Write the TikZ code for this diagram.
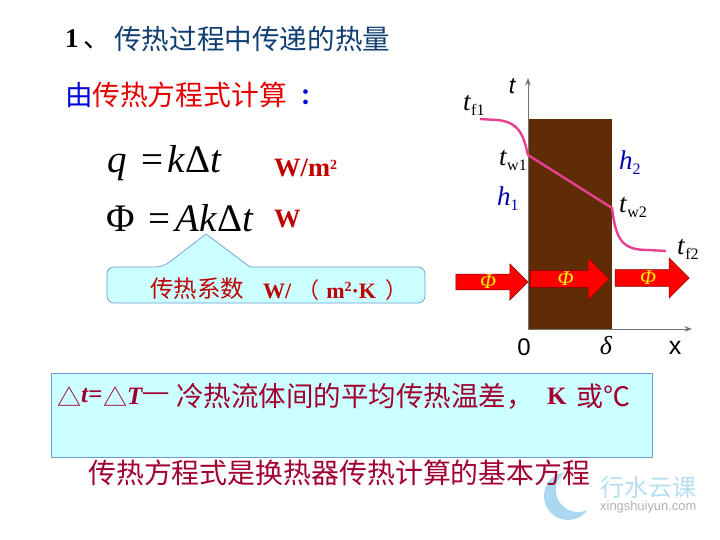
\documentclass[tikz,border=0pt]{standalone}
\usepackage{fontspec}
\setmainfont{Liberation Serif}
\setsansfont{Liberation Sans}
\newfontfamily\cjk{Noto Sans CJK SC}
\usetikzlibrary{arrows.meta,shapes.arrows}
\definecolor{wallbrown}{HTML}{5F2C06}
\definecolor{curvepink}{HTML}{E8408F}
\definecolor{boxcyan}{HTML}{CCFFFF}
\definecolor{boxedge}{HTML}{6C9BD2}
\definecolor{titleblue}{HTML}{123F73}
\definecolor{unitred}{HTML}{C00000}
\definecolor{noteplum}{HTML}{A00030}
\definecolor{markblue}{HTML}{A9D8F0}
\newcommand{\fsize}[1]{\fontsize{#1}{#1}\selectfont}
\newcommand{\tempsub}[2]{\fsize{27}\textit{#1}\raisebox{-5pt}{\fsize{16}#2}}
\newcommand{\sqsup}{\raisebox{7pt}{\fsize{14}2}}
\tikzset{
	txt/.style={inner sep=0pt, anchor=west},
	fluxarrow/.style={single arrow, draw=red!50!black, line width=0.5pt, fill=red, inner sep=0pt,
			single arrow tip angle=90, text=yellow, font=\fsize{21}\itshape},
	greybar/.style={draw=black!55, line width=1pt}
}
\begin{document}
\begin{tikzpicture}[x=1pt, y=-1pt, >=Stealth]
	\useasboundingbox (0,0) rectangle (720,540);

	% Watermark
	\fill[markblue] (568,496) circle[radius=24];
	\fill[white] (578,490) circle[radius=22];
	\draw[markblue!60, line width=1pt] (560,486) arc[start angle=170, end angle=260, radius=16];
	\node[txt, font=\fsize{24}\cjk, text=markblue!85] (marktext) at (600,487) {行水云课};
	\node[txt, font=\fsize{12.9}\sffamily, text=black!30] (markurl) at (600,507) {xingshuiyun.com};

	% Heading lines
	\node[txt, font=\fsize{27}\bfseries] (num) at (65,39) {1\,{\cjk\mdseries 、}};
	\node[txt, font=\fsize{27.6}\cjk, text=titleblue] (heading) at (114,39) {传热过程中传递的热量};
	\node[txt, font=\fsize{27.6}\cjk, text=blue!85!black] (you) at (65,95) {由};
	\node[txt, font=\fsize{27.8}\cjk, text=red!90!black] (method) at (92,95) {传热方程式计算};
	\node[txt, font=\fsize{22}\cjk\bfseries, text=blue!85!black] (colon) at (300,97) {：};

	% Equations
	\node[txt, font=\fsize{39}] (eqq) at (107,163) {\textit{q}\hspace{15pt}=\hspace{4pt}\textit{k}Δ\textit{t}};
	\node[txt, font=\fsize{39}] (eqphi) at (106,218) {Φ\hspace{14pt}=\hspace{5pt}\textit{Ak}Δ\textit{t}};
	\node[txt, font=\fsize{26.5}\bfseries, text=unitred] (unitq) at (274,168) {W/m\sqsup};
	\node[txt, font=\fsize{26.5}\bfseries, text=unitred] (unitphi) at (274,219) {W};

	% Callout
	\draw[draw=boxedge, line width=0.7pt, fill=boxcyan, rounded corners=7pt]
		(107,285) -- (107,267) -- (163,267) [sharp corners] -- (206,234) -- (250,267)
		[rounded corners=7pt] -- (425,267) -- (425,303) -- (107,303) -- cycle;
	\node[txt, font=\fsize{23.5}\cjk, text=red!75!black] (callout) at (150,289) {传热系数};
	\node[txt, font=\fsize{22}\bfseries, text=red!75!black] (calloutunit) at (263,290)
		{W/\hspace{6pt}{\cjk\mdseries （}\hspace{7pt}m\sqsup·K\hspace{9pt}{\cjk\mdseries ）}};

	% Wall
	\fill[wallbrown] (528,119) rectangle (612,329);

	% Axes
	\coordinate (origin) at (528,329);
	\coordinate (ttip) at (528,78);
	\coordinate (xtip) at (692,329);
	\draw[->, greybar] (origin) -- (ttip);
	\draw[->, greybar] (origin) -- (xtip);
	\node[font=\fsize{23}\sffamily\itshape, inner sep=0pt] (tlabel) at (512,86) {t};
	\node[font=\fsize{24}\sffamily, inner sep=0pt] (zero) at (524,347) {0};
	\node[font=\fsize{26}\itshape, inner sep=0pt] (delta) at (606,346) {δ};
	\node[font=\fsize{25}\sffamily, inner sep=0pt] (xlabel) at (675,348) {x};

	% Temperature curve
	\coordinate (tf1) at (480,119);
	\coordinate (tw1) at (528,155);
	\coordinate (tw2) at (612,208);
	\coordinate (tf2) at (666,251);
	\draw[curvepink, line width=2.4pt]
		(tf1) -- (497,120) .. controls (522,122) and (524,140) .. (tw1) -- (tw2)
		.. controls (616,240) and (622,250) .. (648,250) -- (tf2);

	% Heat flow arrows
	\node[fluxarrow, minimum height=72pt, minimum width=36pt, single arrow head extend=9pt] (flux1) at (488,282) {Φ};
	\node[fluxarrow, minimum height=79pt, minimum width=42pt, single arrow head extend=11pt] (flux2) at (565.5,279) {Φ};
	\node[fluxarrow, minimum height=74pt, minimum width=40pt, single arrow head extend=10pt] (flux3) at (648,278) {Φ};

	% Temperature labels
	\node[txt] (lfa) at (463,105) {\tempsub{t}{f1}};
	\node[txt] (lwa) at (499,160) {\tempsub{t}{w1}};
	\node[txt] (lwb) at (619,207) {\tempsub{t}{w2}};
	\node[txt] (lfb) at (677,249) {\tempsub{t}{f2}};
	\node[txt, text=blue!70!black] (ha) at (497,199) {\fsize{27}\textit{h}\raisebox{-5pt}{\fsize{16}1}};
	\node[txt, text=blue!70!black] (hb) at (619,163) {\fsize{27}\textit{h}\raisebox{-5pt}{\fsize{16}2}};

	% Note box
	\node[draw=boxedge, line width=0.7pt, fill=boxcyan, minimum width=601pt, minimum height=84pt, anchor=north west, inner sep=0pt] (notebox) at (51,373) {};
	\node[txt, font=\fsize{24}\cjk, text=noteplum] (trianglea) at (57,397) {△};
	\node[txt, font=\fsize{25}\bfseries\itshape, text=noteplum] (tsym) at (81,396) {t=};
	\node[txt, font=\fsize{24}\cjk, text=noteplum] (triangleb) at (103,397) {△};
	\node[txt, font=\fsize{25}\bfseries\itshape, text=noteplum] (tbig) at (127,396) {T};
	\node[txt, font=\fsize{25}\bfseries, text=noteplum] (tdash) at (143,396) {—};
	\node[txt, font=\fsize{27.5}\cjk, text=noteplum] (note) at (176,396) {冷热流体间的平均传热温差，};
	\node[txt, font=\fsize{25}\bfseries, text=noteplum] (kelvin) at (547,396) {K};
	\node[txt, font=\fsize{27}\cjk, text=noteplum] (orc) at (576,396) {或℃};
	\node[txt, font=\fsize{27.9}\cjk, text=noteplum] (summary) at (88,473) {传热方程式是换热器传热计算的基本方程};
\end{tikzpicture}
\end{document}
